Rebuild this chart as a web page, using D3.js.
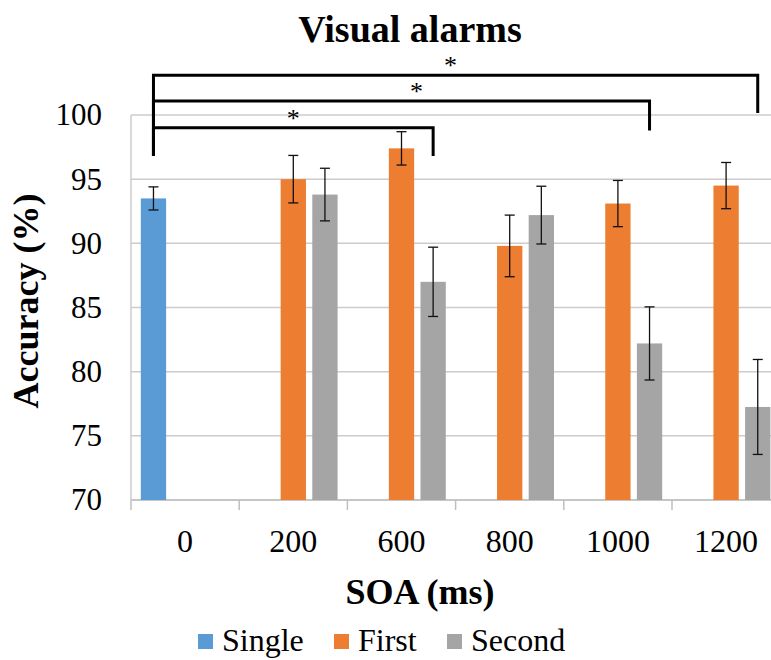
<!DOCTYPE html>
<html>
<head>
<meta charset="utf-8">
<script src="https://cdn.jsdelivr.net/npm/d3@7"></script>
<style>
  body { margin: 0; background: #fff; }
  text { font-family: "Liberation Serif", "Times New Roman", serif; }
</style>
</head>
<body>
<div id="chart"></div>
<script>
// values
const categories = ["0", "200", "600", "800", "1000", "1200"];
const seriesNames = ["Single", "First", "Second"];
const single    = [93.5, null, null, null, null, null];
const singleErr = [0.9, null, null, null, null, null];
const first     = [null, 95.0, 97.4, 89.8, 93.1, 94.5];
const firstErr  = [null, 1.85, 1.3, 2.4, 1.8, 1.8];
const second    = [null, 93.8, 87.0, 92.2, 82.2, 77.25];
const secondErr = [null, 2.05, 2.7, 2.25, 2.85, 3.7];
const yTicks = [70, 75, 80, 85, 90, 95, 100];

// significance brackets: from Single at "0" to Second at a given SOA
const brackets = [
  { to: "600",  level: 99.0,  leftEnd: 96.8, rightEnd: 96.8 },
  { to: "1000", level: 101.1, leftEnd: 96.8, rightEnd: 98.8 },
  { to: "1200", level: 103.1, leftEnd: 96.8, rightEnd: 100.15 }
];
const starNudge = [0, 15, -5];

const colors = { Single: "#5b9bd5", First: "#ed7d31", Second: "#a5a5a5" };

const width = 771, height = 660;
const plotLeft = 131, plotTop = 115, plotBottom = 500;
const step = 108.2;

const svg = d3.select("#chart").append("svg")
  .attr("width", width)
  .attr("height", height);

const x = d3.scaleBand()
  .domain(categories)
  .range([plotLeft, plotLeft + step * categories.length])
  .padding(0);

const xs = d3.scaleBand()
  .domain(seriesNames)
  .range([0, x.bandwidth()])
  .paddingInner(0.2)
  .paddingOuter(0.31);

const y = d3.scaleLinear()
  .domain([70, 100])
  .range([plotBottom, plotTop]);

// gridlines
svg.append("g")
  .selectAll("line")
  .data(yTicks)
  .enter().append("line")
  .attr("x1", plotLeft).attr("x2", x.range()[1])
  .attr("y1", d => y(d)).attr("y2", d => y(d))
  .attr("stroke", "#cccccc")
  .attr("stroke-width", 1.5);

// left border of plot
svg.append("line")
  .attr("x1", plotLeft).attr("x2", plotLeft)
  .attr("y1", y(100)).attr("y2", y(70))
  .attr("stroke", "#cccccc").attr("stroke-width", 1.5);

// y axis labels
const yAxis = svg.append("g")
  .attr("transform", `translate(${plotLeft},0)`)
  .call(d3.axisLeft(y).tickValues(yTicks).tickSize(0).tickPadding(29));
yAxis.select(".domain").remove();
yAxis.selectAll("text")
  .style("font-family", "Liberation Serif")
  .style("font-size", "31px")
  .attr("fill", "#000");

// x axis
const xAxis = svg.append("g")
  .attr("transform", `translate(0,${plotBottom})`)
  .call(d3.axisBottom(x).tickSize(0).tickPadding(29));
xAxis.select(".domain").remove();
xAxis.selectAll("text")
  .style("font-family", "Liberation Serif")
  .style("font-size", "32px")
  .attr("fill", "#000");

svg.append("line")
  .attr("x1", plotLeft).attr("x2", x.range()[1])
  .attr("y1", plotBottom).attr("y2", plotBottom)
  .attr("stroke", "#bfbfbf").attr("stroke-width", 1.5);

const bounds = categories.map(c => x(c)).concat([x.range()[1]]);
svg.append("g")
  .selectAll("line")
  .data(bounds)
  .enter().append("line")
  .attr("x1", d => d).attr("x2", d => d)
  .attr("y1", plotBottom).attr("y2", plotBottom + 10)
  .attr("stroke", "#bfbfbf").attr("stroke-width", 1.5);

// bars
const series = [
  { name: "Single", values: single, errs: singleErr },
  { name: "First", values: first, errs: firstErr },
  { name: "Second", values: second, errs: secondErr }
];

const points = [];
series.forEach(s => {
  s.values.forEach((v, i) => {
    if (v != null) points.push({ series: s.name, cat: categories[i], value: v, err: s.errs[i] });
  });
});

const barX = d => x(d.cat) + xs(d.series);

svg.append("g")
  .selectAll("rect")
  .data(points)
  .enter().append("rect")
  .attr("x", barX)
  .attr("y", d => y(d.value))
  .attr("width", xs.bandwidth())
  .attr("height", d => y(70) - y(d.value))
  .attr("fill", d => colors[d.series]);

// error bars
const eb = svg.append("g")
  .attr("stroke", "#111")
  .attr("stroke-width", 1.3);

const cx = d => barX(d) + xs.bandwidth() / 2;
eb.selectAll(".stem")
  .data(points)
  .enter().append("line")
  .attr("x1", cx).attr("x2", cx)
  .attr("y1", d => y(d.value + d.err))
  .attr("y2", d => y(d.value - d.err));
eb.selectAll(".capTop")
  .data(points)
  .enter().append("line")
  .attr("x1", d => cx(d) - 5).attr("x2", d => cx(d) + 5)
  .attr("y1", d => y(d.value + d.err))
  .attr("y2", d => y(d.value + d.err));
eb.selectAll(".capBottom")
  .data(points)
  .enter().append("line")
  .attr("x1", d => cx(d) - 5).attr("x2", d => cx(d) + 5)
  .attr("y1", d => y(d.value - d.err))
  .attr("y2", d => y(d.value - d.err));

// significance brackets
const fromX = x("0") + xs("Single") + xs.bandwidth() / 2;
const bg = svg.append("g");
brackets.forEach((b, i) => {
  const toX = x(b.to) + xs("Second") + xs.bandwidth() / 2;
  bg.append("path")
    .attr("d", `M${fromX},${y(b.leftEnd)}V${y(b.level)}H${toX}V${y(b.rightEnd)}`)
    .attr("fill", "none")
    .attr("stroke", "#000")
    .attr("stroke-width", 3);
  bg.append("text")
    .attr("x", (fromX + toX) / 2 + starNudge[i])
    .attr("y", y(b.level) - 1)
    .attr("text-anchor", "middle")
    .style("font-size", "26px")
    .text("*");
});

// titles
svg.append("text")
  .attr("x", 410).attr("y", 42)
  .attr("text-anchor", "middle")
  .style("font-size", "38px")
  .style("font-weight", "bold")
  .text("Visual alarms");

svg.append("text")
  .attr("x", 420).attr("y", 604)
  .attr("text-anchor", "middle")
  .style("font-size", "36px")
  .style("font-weight", "bold")
  .text("SOA (ms)");

svg.append("text")
  .attr("transform", "translate(38,301) rotate(-90)")
  .attr("text-anchor", "middle")
  .style("font-size", "36px")
  .style("font-weight", "bold")
  .text("Accuracy (%)");

// legend
const legendX = [198, 334, 447];
const lg = svg.append("g");
seriesNames.forEach((n, i) => {
  lg.append("rect")
    .attr("x", legendX[i]).attr("y", 634)
    .attr("width", 15).attr("height", 15)
    .attr("fill", colors[n]);
  lg.append("text")
    .attr("x", legendX[i] + 24).attr("y", 651)
    .style("font-size", "32px")
    .text(n);
});
</script>
</body>
</html>
